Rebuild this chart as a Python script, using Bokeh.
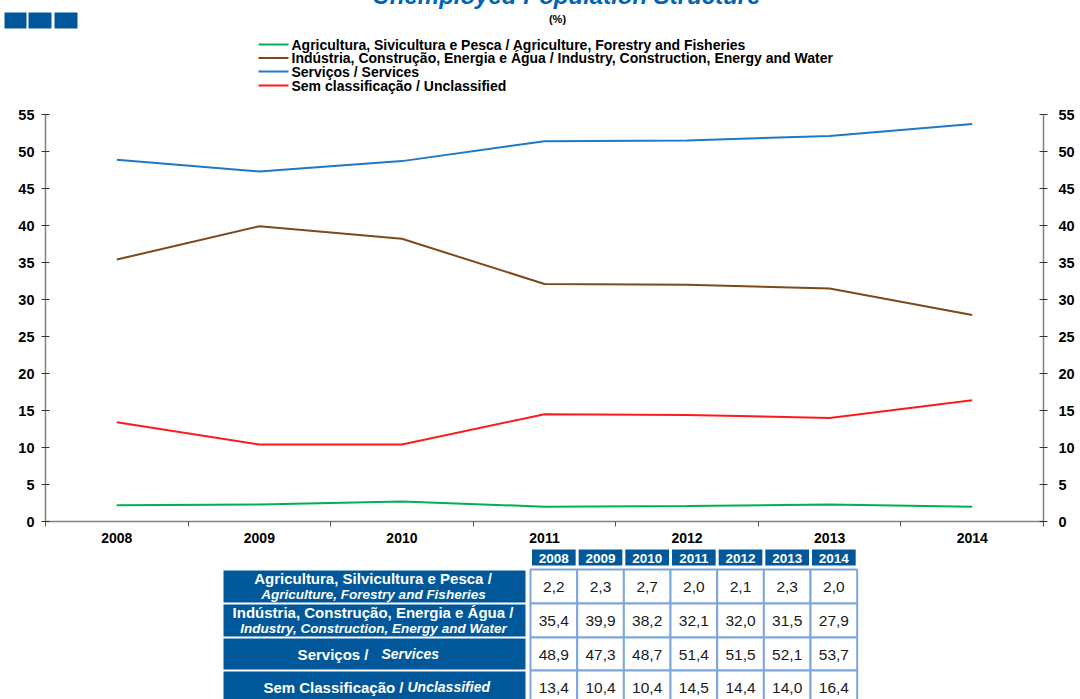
from bokeh.plotting import figure
from bokeh.layouts import column
from bokeh.models import Range1d, FixedTicker, LinearAxis
from bokeh.core.properties import value
from bokeh.embed import file_html
from bokeh.resources import INLINE

# ---------------- data ----------------
years = ["2008", "2009", "2010", "2011", "2012", "2013", "2014"]
agriculture = [2.2, 2.3, 2.7, 2.0, 2.1, 2.3, 2.0]
industry = [35.4, 39.9, 38.2, 32.1, 32.0, 31.5, 27.9]
services = [48.9, 47.3, 48.7, 51.4, 51.5, 52.1, 53.7]
unclassified = [13.4, 10.4, 10.4, 14.5, 14.4, 14.0, 16.4]

legend_labels = [
    "Agricultura, Sivicultura e Pesca / Agriculture, Forestry and Fisheries",
    "Indústria, Construção, Energia e Água / Industry, Construction, Energy and Water",
    "Serviços / Services",
    "Sem classificação / Unclassified",
]
row_labels_pt = [
    "Agricultura, Silvicultura e Pesca /",
    "Indústria, Construção, Energia e Água /",
    "Serviços /",
    "Sem Classificação /",
]
row_labels_en = [
    "Agriculture, Forestry and Fisheries",
    "Industry, Construction, Energy and Water",
    "Services",
    "Unclassified",
]
y_ticks = list(range(0, 56, 5))
title_text = "Unemployed Population Structure"
subtitle_text = "(%)"

series = [agriculture, industry, services, unclassified]
colors = ["#00B050", "#7B4A1C", "#1F78C8", "#FF1A1A"]
FONT = "Liberation Sans"
W = 1078
FL, FR = 45, 1043          # frame left / right (page pixels)
DARK = "#00589A"

# ---------------- header ----------------
hdr = figure(width=W, height=112, x_range=Range1d(0, W), y_range=Range1d(100, -12),
             x_axis_type=None, y_axis_type=None, min_border=0, min_border_left=0,
             min_border_right=0, min_border_top=0, min_border_bottom=0,
             toolbar_location=None, outline_line_color=None, output_backend="svg")
hdr.grid.visible = False
hdr.quad(left=[4, 28, 54], right=[26, 51, 77], top=[12, 12, 12], bottom=[28, 28, 28],
         fill_color=DARK, line_color=None)
hdr.text(x=[566], y=[-5], text=[title_text], text_font=value(FONT), text_font_size="24px",
         text_font_style="bold italic", text_color="#0066B3", text_align="center",
         text_baseline="middle")
hdr.text(x=[557], y=[18], text=[subtitle_text], text_font=value(FONT), text_font_size="11px",
         text_font_style="bold", text_color="#000000", text_align="center",
         text_baseline="middle")
leg_y = [44, 57.5, 71, 85]
for lab, c, ly in zip(legend_labels, colors, leg_y):
    hdr.line(x=[258, 288], y=[ly, ly], line_color=c, line_width=2)
    hdr.text(x=[291], y=[ly], text=[lab], text_font=value(FONT), text_font_size="14px",
             text_font_style="bold", text_color="#000000", text_align="left",
             text_baseline="middle")

# ---------------- chart ----------------
xs = [i + 0.5 for i in range(len(years))]
ch = figure(width=W, height=445, x_range=Range1d(0, len(years)), y_range=Range1d(0, 55),
            toolbar_location=None, output_backend="svg", outline_line_color=None,
            min_border_left=FL, min_border_right=W - FR, min_border_top=14,
            min_border_bottom=24)
ch.grid.visible = False
for vals, c in zip(series, colors):
    ch.line(x=xs, y=vals, line_color=c, line_width=2)

xa = ch.xaxis[0]
xa.ticker = FixedTicker(ticks=xs, minor_ticks=list(range(len(years) + 1)))
xa.major_label_overrides = {x: y for x, y in zip(xs, years)}
xa.major_tick_in = 0
xa.major_tick_out = 0
xa.minor_tick_in = 0
xa.minor_tick_out = 5
xa.minor_tick_line_color = "#555555"
xa.axis_line_color = "#808080"
xa.axis_line_width = 1.5
xa.major_label_text_font = FONT
xa.major_label_text_font_style = "bold"
xa.major_label_text_font_size = "14px"
xa.major_label_text_color = "#000000"
xa.major_label_standoff = 6

ya = ch.yaxis[0]
ra = LinearAxis()
ch.add_layout(ra, "right")
for ax, sd in ((ya, 7), (ra, 11)):
    ax.ticker = FixedTicker(ticks=y_ticks)
    ax.major_tick_in = 4
    ax.major_tick_out = 4
    ax.minor_tick_out = 0
    ax.minor_tick_in = 0
    ax.major_tick_line_color = "#333333"
    ax.axis_line_color = "#808080"
    ax.axis_line_width = 1.5
    ax.major_label_text_font = FONT
    ax.major_label_text_font_style = "bold"
    ax.major_label_text_font_size = "14.5px"
    ax.major_label_text_color = "#000000"
    ax.major_label_standoff = sd

# ---------------- table ----------------
tb = figure(width=W, height=160, x_range=Range1d(FL, FR), y_range=Range1d(705, 545),
            x_axis_type=None, y_axis_type=None, min_border_left=FL,
            min_border_right=W - FR, min_border_top=0, min_border_bottom=0,
            toolbar_location=None, outline_line_color=None, output_backend="svg")
tb.grid.visible = False
col0, colw = 530.0, 46.67
row_b = [569, 603, 637, 670, 704]
ncol = len(years)
bounds = [col0 + j * colw for j in range(ncol + 1)]
# year header cells
tb.quad(left=[b + 1.5 for b in bounds[:-1]], right=[b - 1.5 for b in bounds[1:]],
        top=[549] * ncol, bottom=[565] * ncol, fill_color=DARK, line_color=None)
centers = [(bounds[j] + bounds[j + 1]) / 2 for j in range(ncol)]
tb.text(x=centers, y=[557.5] * ncol, text=years, text_font=value(FONT),
        text_font_size="13.5px", text_font_style="bold", text_color="white",
        text_align="center", text_baseline="middle")
# row header cells
nr = len(series)
tb.quad(left=[223] * nr, right=[525] * nr, top=[row_b[i] + 1 for i in range(nr)],
        bottom=[row_b[i + 1] - 1 for i in range(nr)], fill_color=DARK, line_color=None)
# data grid
cx, cy, cw, chh, txt = [], [], [], [], []
for i, vals in enumerate(series):
    for j, v in enumerate(vals):
        cx.append(centers[j])
        cy.append((row_b[i] + row_b[i + 1]) / 2)
        cw.append(colw)
        chh.append(row_b[i + 1] - row_b[i])
        txt.append(f"{v:.1f}".replace(".", ","))
tb.rect(x=cx, y=cy, width=cw, height=chh, fill_color="white", line_color="#7EA6DE",
        line_width=2)
tb.text(x=cx, y=[c + 0.5 for c in cy], text=txt, text_font=value(FONT),
        text_font_size="15.5px", text_color="#1A1A1A", text_align="center",
        text_baseline="middle")
# row header texts
two_line_y = [(578, 593.5), (611.5, 627.5)]
for i in range(2):
    tb.text(x=[372.5], y=[two_line_y[i][0]], text=[row_labels_pt[i]], text_font=value(FONT),
            text_font_size="15px", text_font_style="bold", text_color="white",
            text_align="center", text_baseline="middle")
    tb.text(x=[373], y=[two_line_y[i][1]], text=[row_labels_en[i]], text_font=value(FONT),
            text_font_size="13.5px", text_font_style="bold italic", text_color="white",
            text_align="center", text_baseline="middle")
split = [(368, 381, 653.5), (403, 407, 686.5)]
for k, (xr, xl, yy) in enumerate(split):
    i = k + 2
    tb.text(x=[xr], y=[yy], text=[row_labels_pt[i]], text_font=value(FONT),
            text_font_size="15px", text_font_style="bold", text_color="white",
            text_align="right", text_baseline="middle")
    tb.text(x=[xl], y=[yy], text=[row_labels_en[i]], text_font=value(FONT),
            text_font_size="14px", text_font_style="bold italic", text_color="white",
            text_align="left", text_baseline="middle")

layout = column(hdr, column(ch, tb), margin=(-12, 0, 0, 0))
open("out.html", "w").write(file_html(layout, INLINE))
